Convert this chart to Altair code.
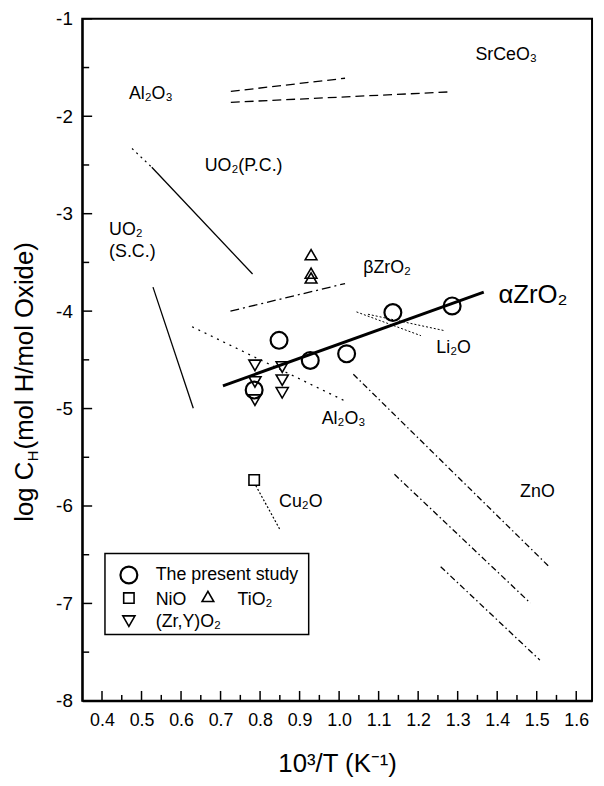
import altair as alt
import pandas as pd

FONT = "Liberation Sans"
X_DOMAIN = [0.35, 1.64]
Y_DOMAIN = [-8, -1]

# ---------------- data ----------------
study_x = [0.785, 0.848, 0.927, 1.019, 1.136, 1.286]
study_y = [-4.81, -4.30, -4.506, -4.438, -4.015, -3.947]

tio2_x = [0.929, 0.929, 0.929]
tio2_y = [-3.42, -3.61, -3.66]

zry_x = [0.787, 0.787, 0.787, 0.856, 0.856, 0.856]
zry_y = [-4.557, -4.727, -4.913, -4.574, -4.709, -4.838]

nio_x = [0.785]
nio_y = [-5.733]

# alpha-ZrO2 fit line
fit_x = [0.706, 1.366]
fit_y = [-4.767, -3.805]

# literature lines (segment id, x, y)
srceo3_seg = ["a", "a", "b", "b"]
srceo3_x = [0.726, 1.015, 0.726, 1.285]
srceo3_y = [-1.745, -1.610, -1.857, -1.749]

uo2pc_x = [0.526, 0.781]
uo2pc_y = [-2.524, -3.619]
uo2pc_ext_x = [0.476, 0.526]
uo2pc_ext_y = [-2.331, -2.524]

uo2sc_x = [0.529, 0.631]
uo2sc_y = [-3.754, -4.997]

bzro2_x = [0.725, 1.015]
bzro2_y = [-4.00, -3.717]

al2o3_x = [0.628, 1.019]
al2o3_y = [-4.16, -4.93]

li2o_seg = ["a", "a", "b", "b"]
li2o_x = [1.044, 1.207, 1.073, 1.266]
li2o_y = [-4.008, -4.252, -4.032, -4.20]

cu2o_x = [0.789, 0.850]
cu2o_y = [-5.79, -6.24]

zno_seg = ["a", "a", "b", "b", "c", "c"]
zno_x = [1.036, 1.529, 1.140, 1.484, 1.257, 1.508]
zno_y = [-4.648, -6.613, -5.675, -6.996, -6.623, -7.582]

# text labels (left edge, baseline)
label_text = ["Al₂O₃", "UO₂(P.C.)", "UO₂", "(S.C.)", "SrCeO₃", "βZrO₂",
              "Li₂O", "Al₂O₃", "Cu₂O", "ZnO"]
label_x = [0.468, 0.660, 0.418, 0.418, 1.345, 1.061, 1.246, 0.956, 0.848, 1.458]
label_y = [-1.820, -2.558, -3.219, -3.449, -1.424, -3.609, -4.428, -5.160, -6.013, -5.912]

big_label_text = ["αZrO₂"]
big_label_x = [1.403]
big_label_y = [-3.914]

# legend
legend_box_x = [0.4075]
legend_box_x2 = [0.923]
legend_box_y = [-6.488]
legend_box_y2 = [-7.318]
leg_circle = ([0.468], [-6.708])
leg_square = ([0.468], [-6.945])
leg_up = ([0.668], [-6.928])
leg_down = ([0.468], [-7.182])
leg_text = ["The present study", "NiO", "TiO₂", "(Zr,Y)O₂"]
leg_text_x = [0.536, 0.536, 0.743, 0.536]
leg_text_y = [-6.759, -7.013, -7.013, -7.240]

x_ticks = [0.4, 0.5, 0.6, 0.7, 0.8, 0.9, 1.0, 1.1, 1.2, 1.3, 1.4, 1.5, 1.6]
x_minor = [0.45, 0.55, 0.65, 0.75, 0.85, 0.95, 1.05, 1.15, 1.25, 1.35, 1.45, 1.55]
y_ticks = [-1, -2, -3, -4, -5, -6, -7, -8]
y_minor = [-1.5, -2.5, -3.5, -4.5, -5.5, -6.5, -7.5]

W, H = 515, 689

# ---------------- chart ----------------
xs = alt.Scale(domain=X_DOMAIN, nice=False, zero=False)
ys = alt.Scale(domain=Y_DOMAIN, nice=False, zero=False)

X_AXIS = alt.Axis(values=x_ticks, labelExpr="format(datum.value, '.1f')",
                  ticks=False, tickSize=0, grid=False, domainColor="black",
                  domainWidth=2, labelFontSize=18, labelFont=FONT, labelColor="black",
                  labelPadding=11, titleFont=FONT, titleFontSize=26,
                  titleFontWeight="normal", titleColor="black",
                  titleBaseline="alphabetic", titleY=71)
Y_AXIS = alt.Axis(values=y_ticks, labelExpr="toString(datum.value)",
                  ticks=False, tickSize=0, grid=False, domainColor="black",
                  domainWidth=2, labelFontSize=19, labelFont=FONT, labelColor="black",
                  labelPadding=10)
X_TITLE = "10³/T (K⁻¹)"


def X(f="x"):
    return alt.X(f"{f}:Q", scale=xs, axis=X_AXIS, title=X_TITLE)


def Y(f="y"):
    return alt.Y(f"{f}:Q", scale=ys, axis=Y_AXIS, title=None)


def df(x, y, seg=None):
    d = pd.DataFrame({"x": x, "y": y})
    d["seg"] = seg if seg is not None else "a"
    return d


def line_layer(d, dash=None, width=1.2):
    kw = dict(color="black", strokeWidth=width)
    if dash is not None:
        kw["strokeDash"] = dash
    return alt.Chart(d).mark_line(**kw).encode(x=X(), y=Y(), detail="seg:N")


lines = [
    line_layer(df(srceo3_x, srceo3_y, srceo3_seg), [9, 5], 1.3),
    line_layer(df(uo2pc_x, uo2pc_y), None, 1.3),
    line_layer(df(uo2pc_ext_x, uo2pc_ext_y), [2, 4], 1.2),
    line_layer(df(uo2sc_x, uo2sc_y), None, 1.3),
    line_layer(df(bzro2_x, bzro2_y), [9, 4, 2, 4], 1.3),
    line_layer(df(al2o3_x, al2o3_y), [2, 5], 1.3),
    line_layer(df(li2o_x, li2o_y, li2o_seg), [2, 2], 1.0),
    line_layer(df(cu2o_x, cu2o_y), [2, 2], 1.2),
    line_layer(df(zno_x, zno_y, zno_seg), [6, 3, 1.5, 3], 1.3),
    line_layer(df(fit_x, fit_y), None, 3),
]


def ticks_x(vals, length):
    return alt.Chart(pd.DataFrame({"x": vals})).mark_rule(color="black", strokeWidth=1.5).encode(
        x=X(), y=alt.value(H), y2=alt.value(H - length))


def ticks_y(vals, length):
    return alt.Chart(pd.DataFrame({"y": vals})).mark_rule(color="black", strokeWidth=1.5).encode(
        y=Y(), x=alt.value(0), x2=alt.value(length))


tick_layers = [ticks_x(x_ticks, 10), ticks_x(x_minor, 6), ticks_y(y_ticks, 10), ticks_y(y_minor, 7)]


def pts(x, y, shape, size, sw=1.6):
    return alt.Chart(df(x, y)).mark_point(shape=shape, size=size, filled=False, color="black",
                                          strokeWidth=sw, opacity=1).encode(x=X(), y=Y())


points = [
    pts(study_x, study_y, "circle", 290, 2.2),
    pts(tio2_x, tio2_y, "triangle-up", 140),
    pts(zry_x, zry_y, "triangle-down", 150),
    pts(nio_x, nio_y, "square", 110),
]

labels = alt.Chart(pd.DataFrame({"x": label_x, "y": label_y, "t": label_text})).mark_text(
    font=FONT, fontSize=18, align="left", baseline="alphabetic", color="black").encode(
    x=X(), y=Y(), text="t:N")

big_label = alt.Chart(pd.DataFrame({"x": big_label_x, "y": big_label_y, "t": big_label_text})).mark_text(
    font=FONT, fontSize=26, align="left", baseline="alphabetic", color="black").encode(
    x=X(), y=Y(), text="t:N")

legend_box = alt.Chart(pd.DataFrame({"x": legend_box_x, "x2": legend_box_x2,
                                     "y": legend_box_y, "y2": legend_box_y2})).mark_rect(
    fill="white", stroke="black", strokeWidth=1.5).encode(
    x=X(), x2="x2:Q", y=Y(), y2="y2:Q")

legend_marks = [
    pts(*leg_circle, "circle", 290, 2.2),
    pts(*leg_square, "square", 110),
    pts(*leg_up, "triangle-up", 140),
    pts(*leg_down, "triangle-down", 150),
]

legend_text = alt.Chart(pd.DataFrame({"x": leg_text_x, "y": leg_text_y, "t": leg_text})).mark_text(
    font=FONT, fontSize=18, align="left", baseline="alphabetic", color="black").encode(
    x=X(), y=Y(), text="t:N")

# y-axis title composed of pieces so that the subscript H is a real capital H
ytitle_main = alt.Chart(pd.DataFrame({"t": ["log C"]})).mark_text(
    font=FONT, fontSize=26, angle=270, align="left", baseline="alphabetic", color="black").encode(
    text="t:N", x=alt.value(-50), y=alt.value(508))
ytitle_sub = alt.Chart(pd.DataFrame({"t": ["H"]})).mark_text(
    font=FONT, fontSize=15, angle=270, align="left", baseline="alphabetic", color="black").encode(
    text="t:N", x=alt.value(-45), y=alt.value(447))
ytitle_rest = alt.Chart(pd.DataFrame({"t": [" (mol H/mol Oxide)"]})).mark_text(
    font=FONT, fontSize=26, angle=270, align="left", baseline="alphabetic", color="black").encode(
    text="t:N", x=alt.value(-50), y=alt.value(435))

chart = alt.layer(
    *tick_layers, *lines, *points, labels, big_label,
    legend_box, *legend_marks, legend_text,
    ytitle_main, ytitle_sub, ytitle_rest,
).properties(
    width=W, height=H,
    autosize=alt.AutoSizeParams(type="none"),
    padding={"left": 75, "top": 7, "right": 4, "bottom": 75},
    background="white",
).configure_view(stroke="black", strokeWidth=2)

chart.save("out.html", embed_options={"renderer": "svg", "actions": False})
